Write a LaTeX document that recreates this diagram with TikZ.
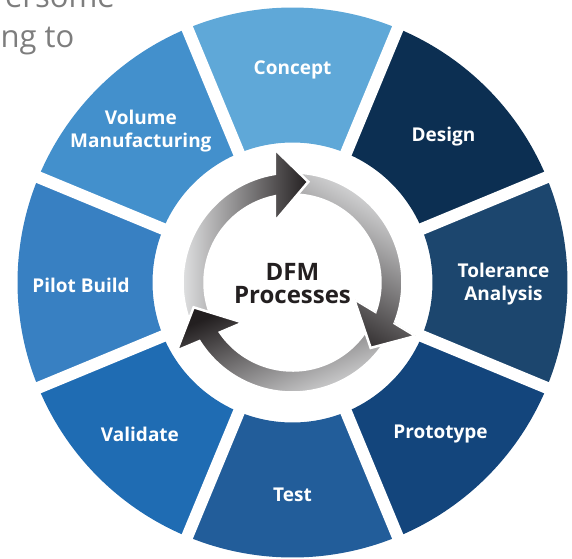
\documentclass[tikz,border=0pt]{standalone}
\usepackage{fontspec}
\setmainfont{Open Sans}
\usetikzlibrary{calc}

\definecolor{cConcept}{HTML}{5FA8D8}
\definecolor{cDesign}{HTML}{0C2F52}
\definecolor{cTolerance}{HTML}{1C466E}
\definecolor{cPrototype}{HTML}{13457C}
\definecolor{cTest}{HTML}{225D9A}
\definecolor{cValidate}{HTML}{1F6CB3}
\definecolor{cPilot}{HTML}{3880C2}
\definecolor{cVolume}{HTML}{4390CC}
\definecolor{swirlLight}{HTML}{E8E9EA}
\definecolor{swirlDark}{HTML}{231F20}
\definecolor{introGray}{HTML}{7D7D7D}

\tikzset{
	seglabel/.style={text=white, font=\bfseries\fontsize{19}{23}\selectfont, align=center},
	gapline/.style={white, line width=12},
	swirl/.style={left color=swirlLight, right color=swirlDark, shading angle=#1, draw=white, line width=2.5, line join=miter},
}

% one arrow of the inner ring, drawn pointing right at the top
\newcommand{\swirlpath}[1]{(#1:110) arc[start angle=#1, end angle=99.2, radius=110] -- (-17.5,133) -- (15.8,100.7) -- (-17.5,61.3) -- (101.5:88) arc[start angle=101.5, end angle=#1, radius=88] -- cycle}

\begin{document}
\begin{tikzpicture}[x=1pt, y=1pt]
			\useasboundingbox (-292.5,-275.5) rectangle (279.5,282.5);
			\clip (-292.5,-275.5) rectangle (279.5,282.5);
			\node (centre) at (0,0) {};

			% text cut off by the page
			\node[anchor=base east, inner sep=0, text=introGray, font=\fontsize{31}{38}\selectfont] (intro1) at (-177.5,275) {ersome};
			\node[anchor=base west, inner sep=0, text=introGray, font=\fontsize{31}{38}\selectfont] (intro2) at (-292,235.5) {ng to};

			% outer ring
			\fill[cConcept] (67.5:140) arc[start angle=67.5, end angle=112.5, radius=140] -- (112.5:275) arc[start angle=112.5, end angle=67.5, radius=275] -- cycle;
			\fill[cDesign] (22.5:140) arc[start angle=22.5, end angle=67.5, radius=140] -- (67.5:275) arc[start angle=67.5, end angle=22.5, radius=275] -- cycle;
			\fill[cTolerance] (-22.5:140) arc[start angle=-22.5, end angle=22.5, radius=140] -- (22.5:275) arc[start angle=22.5, end angle=-22.5, radius=275] -- cycle;
			\fill[cPrototype] (-67.5:140) arc[start angle=-67.5, end angle=-22.5, radius=140] -- (-22.5:275) arc[start angle=-22.5, end angle=-67.5, radius=275] -- cycle;
			\fill[cTest] (-112.5:140) arc[start angle=-112.5, end angle=-67.5, radius=140] -- (-67.5:275) arc[start angle=-67.5, end angle=-112.5, radius=275] -- cycle;
			\fill[cValidate] (-157.5:140) arc[start angle=-157.5, end angle=-112.5, radius=140] -- (-112.5:275) arc[start angle=-112.5, end angle=-157.5, radius=275] -- cycle;
			\fill[cPilot] (157.5:140) arc[start angle=157.5, end angle=202.5, radius=140] -- (202.5:275) arc[start angle=202.5, end angle=157.5, radius=275] -- cycle;
			\fill[cVolume] (112.5:140) arc[start angle=112.5, end angle=157.5, radius=140] -- (157.5:275) arc[start angle=157.5, end angle=112.5, radius=275] -- cycle;

			\draw[gapline] (22.5:125) -- (22.5:290);
			\draw[gapline] (67.5:125) -- (67.5:290);
			\draw[gapline] (112.5:125) -- (112.5:290);
			\draw[gapline] (157.5:125) -- (157.5:290);
			\draw[gapline] (202.5:125) -- (202.5:290);
			\draw[gapline] (247.5:125) -- (247.5:290);
			\draw[gapline] (292.5:125) -- (292.5:290);
			\draw[gapline] (337.5:125) -- (337.5:290);

			\node[seglabel] (concept) at ($(centre)+(90:213)$) {Concept};
			\node[seglabel] (design) at ($(centre)+(44:210)$) {Design};
			\node[seglabel] (tolerance) at ($(centre)+(-0.5:211)$) {Tolerance\\Analysis};
			\node[seglabel] (prototype) at ($(centre)+(-45.7:212)$) {Prototype};
			\node[seglabel] (test) at ($(centre)+(-90:212.5)$) {Test};
			\node[seglabel] (validate) at ($(centre)+(-135.2:215)$) {Validate};
			\node[seglabel] (pilot) at ($(centre)+(180.7:211.5)$) {Pilot Build};
			\node[seglabel] (volume) at ($(centre)+(135:214.5)$) {Volume\\Manufacturing};

			% inner ring of arrows
			\begin{scope}[rotate=-121]
				\shade[swirl=-31] \swirlpath{214};
			\end{scope}
			\shade[swirl=90] \swirlpath{205};
			\begin{scope}[rotate=113]
				\shade[swirl=203] \swirlpath{217};
			\end{scope}
			\begin{scope}[rotate=-121]
				\clip (-18,141) -- (25,100.7) -- (-18,53) -- cycle;
				\shade[swirl=-31] \swirlpath{214};
			\end{scope}

			\node[font=\bfseries\fontsize{24}{23}\selectfont, text=swirlDark, align=center] (dfm) at ($(centre)+(0,-1)$) {DFM\\Processes};
		\end{tikzpicture}
\end{document}
